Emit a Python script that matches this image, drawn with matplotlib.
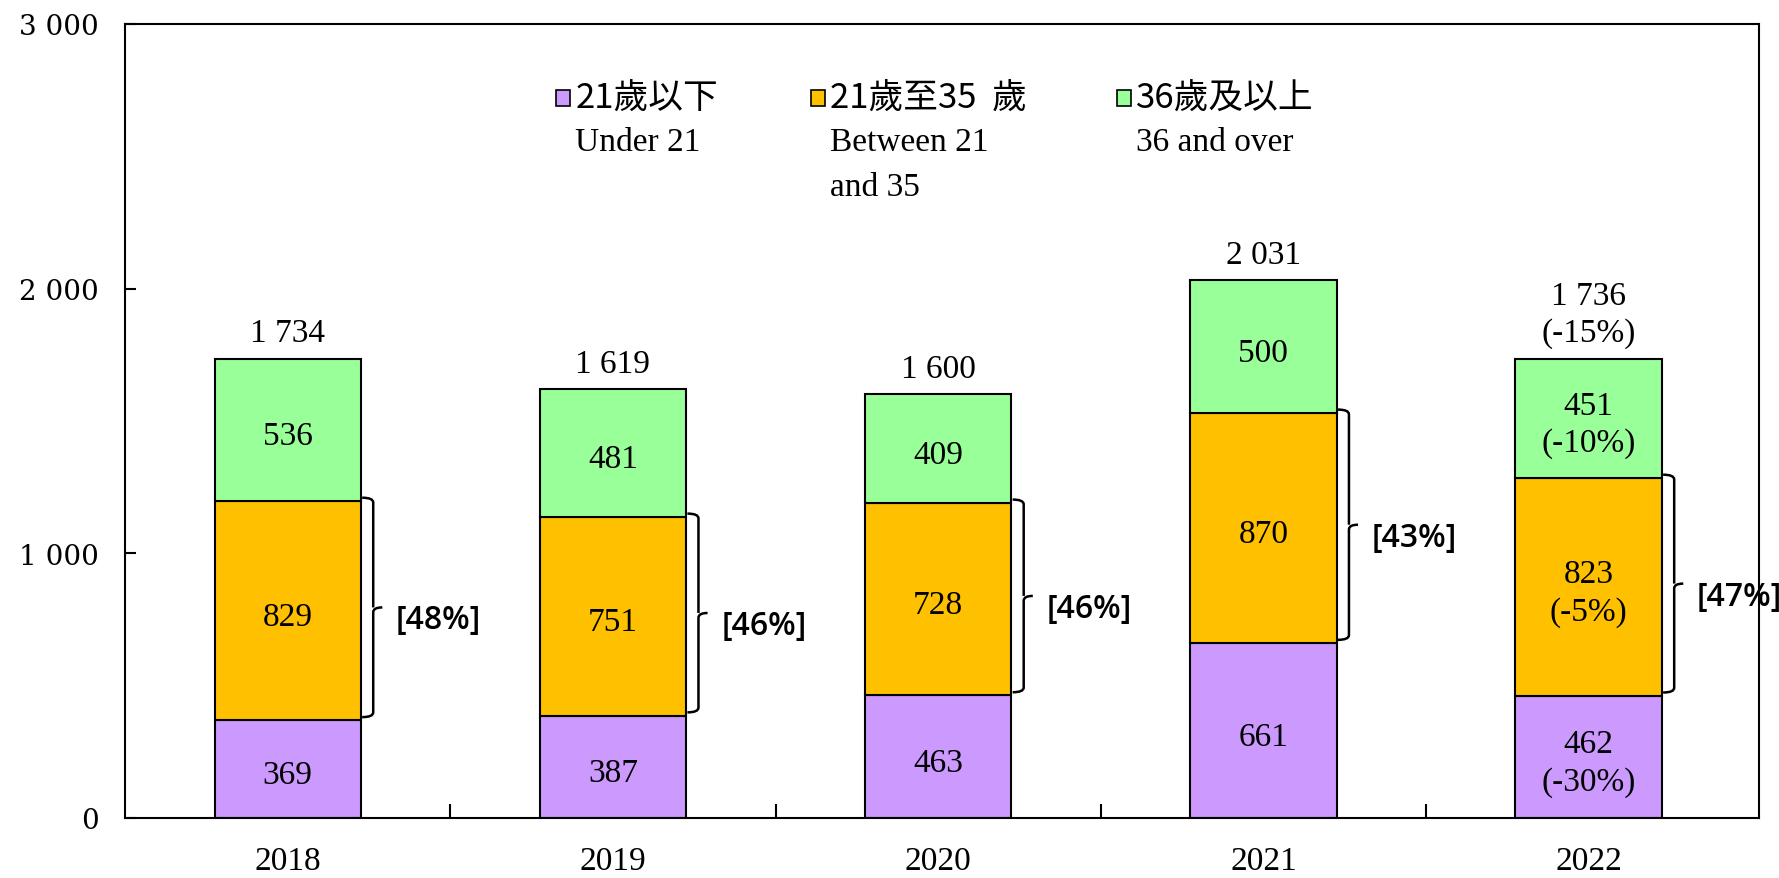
import numpy as np
import matplotlib
matplotlib.use("Agg")
import matplotlib.pyplot as plt
from matplotlib.patches import Rectangle
from matplotlib.path import Path
from matplotlib.patches import PathPatch

# 데이터
years = ["2018", "2019", "2020", "2021", "2022"]
under_21 = [369, 387, 463, 661, 462]
between_21_35 = [829, 751, 728, 870, 823]
over_36 = [536, 481, 409, 500, 451]
totals = [1734, 1619, 1600, 2031, 1736]
share_21_35 = ["[48%]", "[46%]", "[46%]", "[43%]", "[47%]"]
# 2022 year-on-year change
chg_under_21 = [None, None, None, None, "(-30%)"]
chg_21_35 = [None, None, None, None, "(-5%)"]
chg_over_36 = [None, None, None, None, "(-10%)"]
chg_total = [None, None, None, None, "(-15%)"]

legend_zh = ["21歲以下", "21歲至35  歲", "36歲及以上"]
legend_en = ["Under 21", "Between 21\nand 35", "36 and over"]
colors = ["#CC99FF", "#FFC000", "#99FF99"]

SERIF = ["Liberation Serif", "DejaVu Serif"]
CJK = ["Noto Sans CJK TC", "DejaVu Sans"]
SANS = ["Open Sans", "DejaVu Sans"]
FS = 24
DY = -22  # 막대 안 숫자 위치 보정


def fmt(v):
    return f"{v:,}".replace(",", " ")


def label(v, chg):
    return fmt(v) if chg is None else f"{fmt(v)}\n{chg}"


def brace(ax, x0, y0, y1, w=0.034, tip=0.028):
    # 오른쪽 중괄호
    r = min(18, (y1 - y0) * 0.04)
    ym = (y0 + y1) / 2
    xv = x0 + w
    verts = [(x0, y0), (xv, y0), (xv, y0 + r), (xv, ym - r), (xv, ym), (xv + tip, ym),
             (xv, ym), (xv, ym + r), (xv, y1 - r), (xv, y1), (x0, y1)]
    codes = [Path.MOVETO, Path.CURVE3, Path.CURVE3, Path.LINETO, Path.CURVE3, Path.CURVE3,
             Path.MOVETO, Path.CURVE3, Path.LINETO, Path.CURVE3, Path.CURVE3]
    ax.add_patch(PathPatch(Path(verts, codes), fill=False, lw=1.8, ec="black"))


fig = plt.figure(figsize=(17.79, 8.79), dpi=100)
ax = fig.add_axes([0.0703, 0.0683, 0.9185, 0.9033])

x = np.arange(len(years))
width = 0.45
b1 = np.array(under_21)
b2 = b1 + np.array(between_21_35)

ax.bar(x, under_21, width, color=colors[0], edgecolor="black", lw=1.5)
ax.bar(x, between_21_35, width, bottom=b1, color=colors[1], edgecolor="black", lw=1.5)
ax.bar(x, over_36, width, bottom=b2, color=colors[2], edgecolor="black", lw=1.5)

for i in range(len(years)):
    ax.text(x[i], under_21[i] / 2 + DY, label(under_21[i], chg_under_21[i]),
            ha="center", va="center", fontsize=FS, family=SERIF, linespacing=1.28)
    ax.text(x[i], b1[i] + between_21_35[i] / 2 + DY, label(between_21_35[i], chg_21_35[i]),
            ha="center", va="center", fontsize=FS, family=SERIF, linespacing=1.28)
    ax.text(x[i], b2[i] + over_36[i] / 2 + DY, label(over_36[i], chg_over_36[i]),
            ha="center", va="center", fontsize=FS, family=SERIF, linespacing=1.28)
    ax.text(x[i], totals[i] + 40, label(totals[i], chg_total[i]),
            ha="center", va="bottom", fontsize=FS, family=SERIF, linespacing=1.28)
    x0 = x[i] + width / 2 + 0.004
    brace(ax, x0, b1[i] + 12, b2[i] + 12)
    ax.text(x[i] + 0.333, (b1[i] + b2[i]) / 2 - 35, share_21_35[i],
            ha="left", va="center", fontsize=FS - 1, family=SANS, fontweight="semibold")

# 범례 (수동)
leg_sq = [0.264, 0.420, 0.607]
for k in range(3):
    ax.add_patch(Rectangle((leg_sq[k], 0.897), 0.0085, 0.02, transform=ax.transAxes,
                           facecolor=colors[k], edgecolor="black", lw=1.2, clip_on=False))
    ax.text(leg_sq[k] + 0.0115, 0.907, legend_zh[k], transform=ax.transAxes,
            ha="left", va="center", fontsize=FS + 1, family=CJK)
    ax.text(leg_sq[k] + 0.0115, 0.871, legend_en[k], transform=ax.transAxes,
            ha="left", va="top", fontsize=FS, family=SERIF, linespacing=1.62)

ax.set_xlim(-0.5, len(years) - 0.476)
ax.set_ylim(0, 3000)
ax.set_yticks([0, 1000, 2000, 3000])
ax.set_yticklabels([fmt(v) for v in [0, 1000, 2000, 3000]],
                   family=["DejaVu Serif"], fontsize=20)
ax.set_xticks(x)
ax.set_xticklabels(years, family=SERIF, fontsize=FS)
ax.set_xticks(x[:-1] + 0.5, minor=True)
ax.tick_params(axis="x", which="major", length=0, pad=20)
ax.tick_params(axis="x", which="minor", direction="in", length=10, width=1.5)
ax.tick_params(axis="y", direction="in", length=8, width=1.5, pad=19)
for s in ax.spines.values():
    s.set_linewidth(1.5)

fig.savefig("out.png", dpi=100)
